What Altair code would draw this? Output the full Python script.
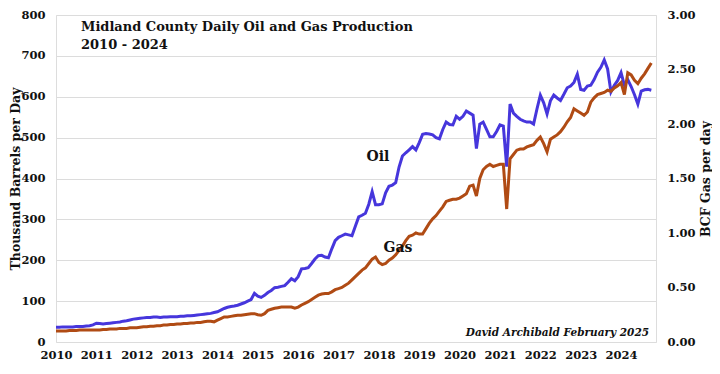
import altair as alt
import pandas as pd

# Monthly values, Jan 2010 .. Oct 2024
oil_kbd = [
    36, 36, 37, 37, 37, 37, 38, 38, 38, 39, 40, 42,          # 2010
    46, 45, 44, 45, 46, 47, 48, 49, 51, 52, 54, 56,          # 2011
    57, 58, 59, 60, 60, 61, 61, 60, 61, 61, 62, 62,          # 2012
    62, 63, 63, 64, 64, 65, 66, 67, 68, 69, 70, 72,          # 2013
    74, 78, 82, 85, 87, 88, 90, 93, 96, 100, 104, 119,       # 2014
    112, 109, 114, 121, 126, 133, 134, 136, 138, 146, 155, 150,  # 2015
    160, 179, 180, 182, 192, 203, 211, 212, 208, 206, 228, 248,  # 2016
    256, 260, 264, 262, 260, 283, 306, 310, 315, 337, 368, 336,  # 2017
    336, 338, 365, 381, 384, 390, 428, 455, 463, 470, 478, 470,  # 2018
    488, 508, 510, 509, 507, 500, 497, 520, 538, 532, 531, 552,  # 2019
    545, 552, 565, 560, 555, 473, 533, 538, 520, 502, 502, 515,  # 2020
    531, 528, 429, 582, 560, 552, 545, 541, 538, 538, 533, 570,  # 2021
    604, 585, 558, 590, 604, 597, 591, 606, 622, 626, 635, 655,  # 2022
    618, 616, 626, 628, 642, 660, 672, 690, 668, 612, 628, 640,  # 2023
    659, 628, 642, 625, 605, 582, 614, 617, 618, 616,            # 2024
]

gas_bcfd = [
    0.10, 0.10, 0.10, 0.10, 0.105, 0.105, 0.105, 0.11, 0.11, 0.11, 0.11, 0.11,
    0.11, 0.11, 0.115, 0.115, 0.12, 0.12, 0.12, 0.125, 0.125, 0.125, 0.13, 0.13,
    0.13, 0.135, 0.14, 0.14, 0.145, 0.145, 0.15, 0.15, 0.155, 0.155, 0.16, 0.16,
    0.165, 0.165, 0.17, 0.17, 0.175, 0.175, 0.18, 0.18, 0.185, 0.19, 0.19, 0.185,
    0.20, 0.215, 0.23, 0.23, 0.235, 0.24, 0.245, 0.245, 0.25, 0.255, 0.26, 0.26,
    0.25, 0.245, 0.26, 0.29, 0.30, 0.31, 0.315, 0.32, 0.32, 0.32, 0.32, 0.31,
    0.32, 0.34, 0.355, 0.37, 0.39, 0.41, 0.43, 0.44, 0.445, 0.445, 0.46, 0.48,
    0.49, 0.50, 0.52, 0.54, 0.57, 0.60, 0.63, 0.66, 0.68, 0.72, 0.76, 0.78,
    0.73, 0.71, 0.72, 0.75, 0.77, 0.80, 0.84, 0.88, 0.93, 0.97, 0.98, 1.00,
    0.99, 0.99, 1.04, 1.09, 1.13, 1.16, 1.20, 1.24, 1.29, 1.30, 1.31, 1.31,
    1.32, 1.34, 1.36, 1.43, 1.44, 1.34, 1.50, 1.58, 1.61, 1.63, 1.61, 1.62,
    1.63, 1.63, 1.22, 1.68, 1.72, 1.76, 1.77, 1.77, 1.79, 1.80, 1.81, 1.85,
    1.88, 1.82, 1.745, 1.86, 1.88, 1.90, 1.93, 1.97, 2.02, 2.06, 2.14, 2.12,
    2.10, 2.08, 2.11, 2.20, 2.24, 2.27, 2.28, 2.29, 2.31, 2.30, 2.33, 2.35,
    2.38, 2.27, 2.47, 2.45, 2.40, 2.37, 2.42, 2.46, 2.51, 2.56,
]

year_ticks = list(range(2010, 2025))
oil_ticks = [0, 100, 200, 300, 400, 500, 600, 700, 800]
gas_ticks = [0, 0.5, 1.0, 1.5, 2.0, 2.5, 3.0]

dates = pd.date_range("2010-01-01", periods=len(oil_kbd), freq="MS")
df = pd.DataFrame({
    "t": dates.year + (dates.month - 1) / 12.0,
    "oil": oil_kbd,
    "gas": gas_bcfd,
})

FONT = "DejaVu Serif"
OIL_C = "#4636dc"
GAS_C = "#b04b14"
H = 327

xenc = alt.X(
    "t:Q",
    scale=alt.Scale(domain=[2010, 2024.866], nice=False, zero=False),
    axis=alt.Axis(values=year_ticks, format="d", title=None, grid=False, ticks=False,
                  domain=False, labelPadding=7, labelFont=FONT, labelFontWeight="bold",
                  labelFontSize=11.5, labelColor="#111", labelFlush=False, labelOverlap=False),
)

oil_line = alt.Chart(df).mark_line(color=OIL_C, strokeWidth=3).encode(
    x=xenc,
    y=alt.Y("oil:Q", scale=alt.Scale(domain=[0, 800], nice=False),
            axis=alt.Axis(values=oil_ticks, title="Thousand Barrels per Day", grid=True,
                          gridColor="#dcdcdc", gridWidth=1, ticks=False, domain=False,
                          labelPadding=11, labelFont=FONT, labelFontWeight="bold",
                          labelFontSize=11.5, labelColor="#111", titleFont=FONT,
                          titleFontWeight="bold", titleFontSize=12.5, titleColor="#111",
                          titleAngle=270, titleX=-41, titleY=H / 2, titleAlign="center",
                          titleBaseline="middle")),
)

gas_line = alt.Chart(df).mark_line(color=GAS_C, strokeWidth=3).encode(
    x=xenc,
    y=alt.Y("gas:Q", scale=alt.Scale(domain=[0, 3], nice=False),
            axis=alt.Axis(orient="right", values=gas_ticks, format=".2f",
                          title="BCF Gas per day", grid=False, ticks=False, domain=False,
                          labelPadding=11, labelFont=FONT, labelFontWeight="bold",
                          labelFontSize=11.5, labelColor="#111", titleFont=FONT,
                          titleFontWeight="bold", titleFontSize=12.5, titleColor="#111",
                          titleAngle=270, titleX=49, titleY=H / 2, titleAlign="center",
                          titleBaseline="middle")),
)

one = pd.DataFrame({"a": [0]})


def label(text, x, y, size, align="left", style="normal"):
    return alt.Chart(one).mark_text(
        text=text, font=FONT, fontWeight="bold", fontStyle=style, fontSize=size,
        color="#111", align=align, baseline="alphabetic",
    ).encode(x=alt.value(x), y=alt.value(y))


texts = [
    label("Midland County Daily Oil and Gas Production", 25, 16, 13),
    label("2010 - 2024", 25, 34, 13),
    label("Oil", 322, 146, 14, align="center"),
    label("Gas", 342, 237, 14, align="center"),
    label("David Archibald February 2025", 593, 321, 10.5, align="right", style="italic"),
]

chart = alt.layer(oil_line, gas_line, *texts).resolve_scale(y="independent").properties(
    width=600, height=H,
    autosize=alt.AutoSizeParams(type="none"),
    padding={"left": 48, "top": 7, "right": 56, "bottom": 24},
).configure_view(
    fill="#fffff1", stroke="#8a8a8a", strokeWidth=1.2,
).configure(background="white")

chart.save("out.html", embed_options={"renderer": "svg", "actions": False})
